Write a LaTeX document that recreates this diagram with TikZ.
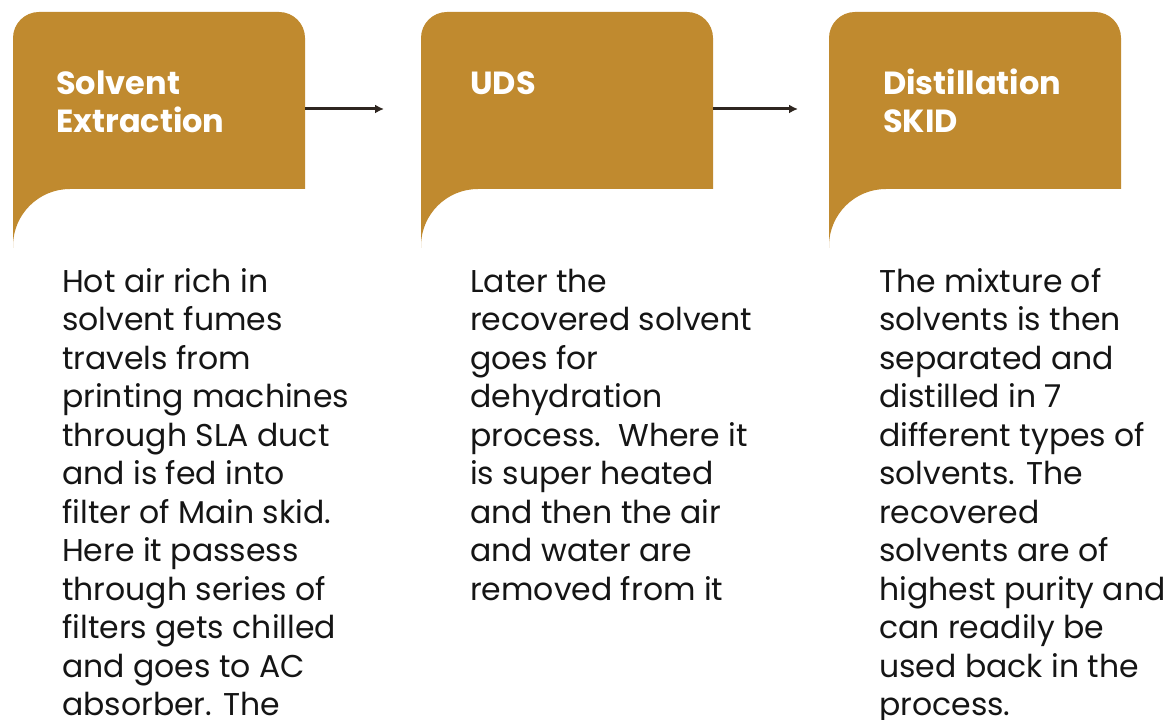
\documentclass[tikz,border=0pt]{standalone}
\usepackage{fontspec}
\setmainfont{Poppins}
\usetikzlibrary{arrows.meta}
\definecolor{gold}{HTML}{C08A2F}
\definecolor{arrowc}{HTML}{2E2620}
\definecolor{bodyc}{HTML}{151515}
\tikzset{
  boxfill/.style={fill=gold, draw=none},
  heading/.style={anchor=north west, inner sep=0pt, align=left, text=white,
    font=\fontsize{32}{38.5}\selectfont\bfseries},
  bodytext/.style={anchor=north west, inner sep=0pt, align=left, text=bodyc,
    font=\fontsize{31.5}{38.5}\selectfont},
  flow/.style={draw=arrowc, line width=3pt, -{Latex[length=9pt,width=9pt]}},
  boxarea/.style={minimum width=292pt, minimum height=177pt, inner sep=0pt, draw=none}
}
\newcommand{\goldbox}[1]{%
  \fill[boxfill] (#1+0,472) -- (#1+0,682) arc[start angle=180,end angle=90,radius=26]
    -- (#1+266,708) arc[start angle=90,end angle=0,radius=26]
    -- (#1+292,531) -- (#1+57,531) arc[start angle=90,end angle=180,radius=57] -- cycle;}
\begin{document}
\begin{tikzpicture}[x=1pt,y=1pt]
\useasboundingbox (0,0) rectangle (1168,720);
% boxes
\goldbox{13}
\goldbox{421}
\goldbox{829}
\node[boxarea, anchor=north west] (b1) at (13,708) {};
\node[boxarea, anchor=north west] (b2) at (421,708) {};
\node[boxarea, anchor=north west] (b3) at (829,708) {};
% headings
\node[heading] (h1) at (56,653) {\strut Solvent\\Extraction};
\node[heading] (h2) at (470,653) {\strut UDS};
\node[heading] (h3) at (883,653) {\strut Distillation\\SKID};
% body texts
\node[bodytext] (t1) at (62,455) {\strut Hot air rich in\\solvent fumes\\travels from\\printing machines\\through SLA duct\\and is fed into\\filter of Main skid.\\Here it passess\\through series of\\filters gets chilled\\and goes to AC\\absorber. The};
\node[bodytext] (t2) at (470,455) {\strut Later the\\recovered solvent\\goes for\\dehydration\\process.\ \ Where it\\is super heated\\and then the air\\and water are\\removed from it};
\node[bodytext] (t3) at (879,455) {\strut The mixture of\\solvents is then\\separated and\\distilled in 7\\different types of\\solvents. The\\recovered\\solvents are of\\highest purity and\\can readily be\\used back in the\\process.};
% arrows
\coordinate (a1s) at (b1.east |- 0,611);
\coordinate (a1e) at (384,611);
\coordinate (a2s) at (b2.east |- 0,611);
\coordinate (a2e) at (798,611);
\draw[flow] (a1s) -- (a1e);
\draw[flow] (a2s) -- (a2e);
\end{tikzpicture}
\end{document}
